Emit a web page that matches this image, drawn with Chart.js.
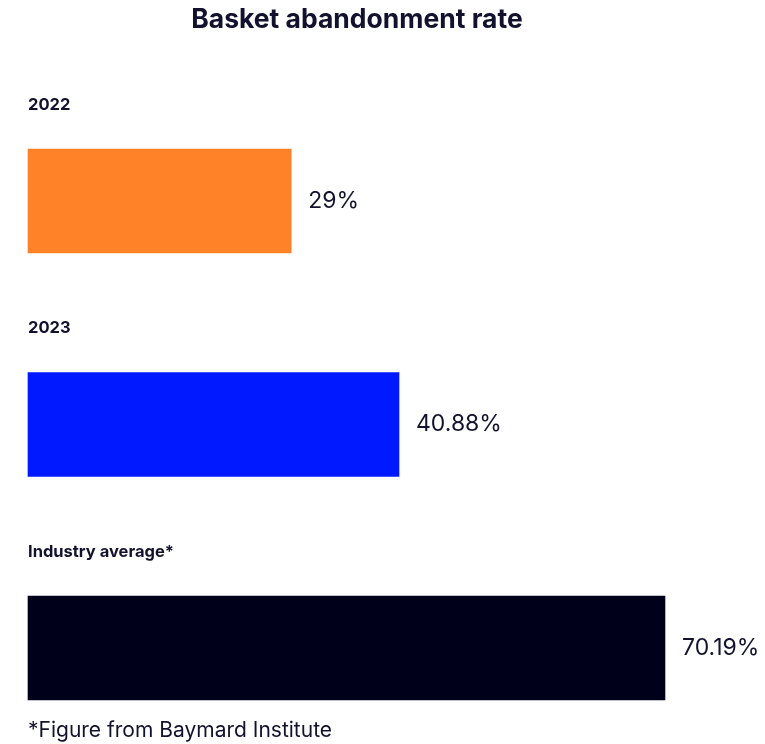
<!DOCTYPE html>
<html>
<head>
<meta charset="utf-8">
<title>Basket abandonment rate</title>
<script src="https://cdn.jsdelivr.net/npm/chart.js@4/dist/chart.umd.min.js"></script>
<style>
  html, body { margin: 0; padding: 0; background: #fff; overflow: hidden; }
  canvas { display: block; }
</style>
</head>
<body>
<canvas id="abandonChart" width="765" height="744"></canvas>
<script>
const categories = ['2022', '2023', 'Industry average*'];
const rates = [29, 40.88, 70.19];
const barColors = ['#ff8229', '#0019ff', '#00001a'];
const titleText = 'Basket abandonment rate';
const footnote = '*Figure from Baymard Institute';

const textColor = '#12122e';
const fontFamily = 'Inter, "Noto Sans", sans-serif';

// category label above each bar, value to the right, title and footnote
const annotate = {
  id: 'annotate',
  afterDatasetsDraw(chart) {
    const { ctx, chartArea } = chart;
    const bars = chart.getDatasetMeta(0).data;
    ctx.save();
    ctx.fillStyle = textColor;

    ctx.font = `700 26.5px ${fontFamily}`;
    ctx.textAlign = 'center';
    ctx.textBaseline = 'middle';
    ctx.fillText(titleText, 357, 20);

    bars.forEach((bar, i) => {
      const top = bar.y - bar.height / 2;
      ctx.textAlign = 'left';
      ctx.font = `700 16.5px ${fontFamily}`;
      ctx.fillText(categories[i], chartArea.left, top - 44);
      ctx.font = `400 23px ${fontFamily}`;
      ctx.fillText(rates[i] + '%', bar.x + 17, bar.y);
    });

    ctx.font = `400 21px ${fontFamily}`;
    ctx.textAlign = 'left';
    ctx.fillText(footnote, chartArea.left, 731);
    ctx.restore();
  }
};

new Chart(document.getElementById('abandonChart'), {
  type: 'bar',
  data: {
    labels: categories,
    datasets: [{
      data: rates,
      backgroundColor: barColors,
      borderWidth: 0,
      barThickness: 104,
      clip: false
    }]
  },
  options: {
    indexAxis: 'y',
    responsive: false,
    animation: false,
    layout: { padding: { left: 28, right: 11, top: 201, bottom: 96 } },
    plugins: {
      legend: { display: false },
      tooltip: { enabled: false }
    },
    scales: {
      x: { display: false, min: 0, max: 80 },
      y: { display: false, offset: false }
    }
  },
  plugins: [annotate]
});
</script>
</body>
</html>
